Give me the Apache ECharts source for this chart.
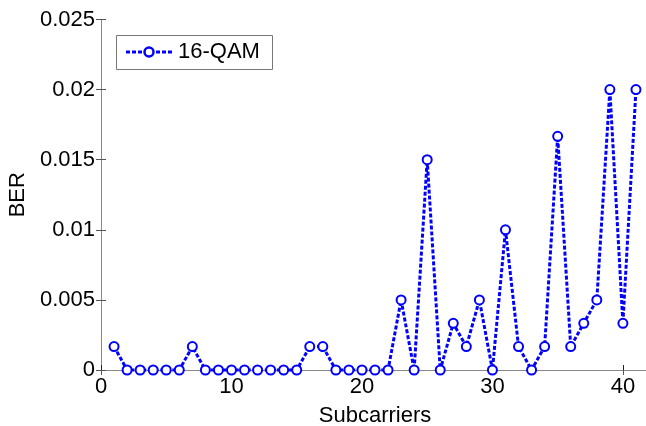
<!DOCTYPE html>
<html>
<head>
<meta charset="utf-8">
<script src="https://cdn.jsdelivr.net/npm/echarts@6/dist/echarts.min.js"></script>
<style>html,body{margin:0;padding:0;background:#fff;}#c{width:646px;height:426px;}</style>
</head>
<body>
<div id="c"></div>
<script>
const subcarriers = [1,2,3,4,5,6,7,8,9,10,11,12,13,14,15,16,17,18,19,20,21,22,23,24,25,26,27,28,29,30,31,32,33,34,35,36,37,38,39,40,41];
const ber16qam = [0.00167,0,0,0,0,0,0.00167,0,0,0,0,0,0,0,0,0.00167,0.00167,0,0,0,0,0,0.005,0,0.015,0,0.00333,0.00167,0.005,0,0.01,0.00167,0,0.00167,0.01667,0.00167,0.00333,0.005,0.02,0.00333,0.02];
const xTicks = [0,10,20,30,40];
const yTicks = [0,0.005,0.01,0.015,0.02,0.025];
const seriesName = '16-QAM';

const chart = echarts.init(document.getElementById('c'), null, {renderer:'canvas'});
const font = 'Liberation Sans, Arial, sans-serif';
const blue = '#0000ff';
const points = subcarriers.map((x,i)=>[x, ber16qam[i]]);
chart.setOption({
  animation:false,
  backgroundColor:'#fff',
  grid:{left:101, top:19.5, right:-3, bottom:56, containLabel:false, outerBoundsMode:'none'},
  xAxis:[{
    type:'value', min:0, max:42, interval:10,
    name:'Subcarriers', nameLocation:'middle', nameGap:35,
    nameTextStyle:{fontFamily:font, fontSize:22, color:'#000'},
    axisLine:{show:true, onZero:false, lineStyle:{color:'#222', width:1}},
    axisTick:{show:true, inside:true, length:5, lineStyle:{color:'#222'}},
    axisLabel:{fontFamily:font, fontSize:22, color:'#000', margin:6,
      formatter:v=> xTicks.includes(v)? String(v):''},
    splitLine:{show:false}
  },{
    type:'value', min:0, max:42, interval:10, position:'top',
    axisLine:{show:true, lineStyle:{color:'#888', width:1}},
    axisTick:{show:true, inside:true, length:5, lineStyle:{color:'#555'}},
    axisLabel:{show:false}, splitLine:{show:false}
  }],
  yAxis:[{
    type:'value', min:0, max:0.025, interval:0.005,
    name:'BER', nameLocation:'middle', nameGap:65, nameRotate:90,
    nameTextStyle:{fontFamily:font, fontSize:22, color:'#000'},
    axisLine:{show:true, lineStyle:{color:'#666', width:1}},
    axisTick:{show:true, inside:true, length:5, lineStyle:{color:'#555'}},
    axisLabel:{fontFamily:font, fontSize:22, color:'#000', margin:6,
      formatter:v=>{const t=yTicks.find(y=>Math.abs(y-v)<1e-9); return t===undefined?'':(t===0?'0':String(+t.toFixed(3)));}},
    splitLine:{show:false}
  },{
    type:'value', min:0, max:0.025, interval:0.005, position:'right',
    axisLine:{show:true, lineStyle:{color:'#888', width:1}},
    axisTick:{show:true, inside:true, length:5, lineStyle:{color:'#555'}},
    axisLabel:{show:false}, splitLine:{show:false}
  }],
  series:[{
    name:seriesName, type:'line', data:points,
    symbol:'emptyCircle', symbolSize:9, showAllSymbol:true,
    lineStyle:{color:blue, width:3, type:[4,2]},
    itemStyle:{color:blue, borderColor:blue, borderWidth:2.5},
    clip:false
  }],
  graphic:[
    {type:'rect', left:116, top:35, shape:{width:156, height:34}, style:{fill:'#fff', stroke:'#777', lineWidth:1}, z:10},
    {type:'line', shape:{x1:126, y1:52, x2:172, y2:52}, style:{stroke:blue, lineWidth:3, lineDash:[4,2]}, z:11},
    {type:'circle', shape:{cx:149, cy:52, r:4.5}, style:{fill:'#fff', stroke:blue, lineWidth:2.5}, z:12},
    {type:'text', left:178, top:41, style:{text:seriesName, font:'22px '+font, fill:'#000'}, z:12}
  ]
});
</script>
</body>
</html>
